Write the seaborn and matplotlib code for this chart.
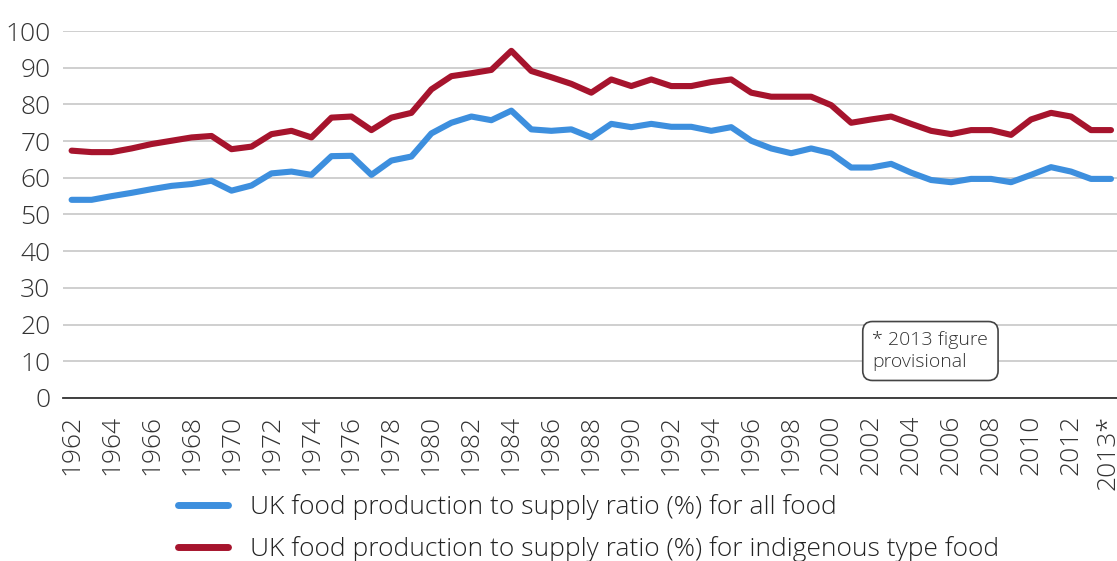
import pandas as pd
import matplotlib.pyplot as plt
import seaborn as sns

# years on the category axis; the last slot is the provisional 2013* figure
years = list(range(1962, 2015))

all_food = [54, 54, 55, 55.9, 56.9, 57.8, 58.3, 59.2, 56.5, 57.9,
            61.2, 61.7, 60.8, 65.9, 66, 60.8, 64.7, 65.8, 72.1, 75.0,
            76.7, 75.7, 78.3, 73.2, 72.8, 73.2, 71.0, 74.7, 73.8, 74.7,
            73.9, 73.9, 72.8, 73.8, 70.1, 68.0, 66.7, 68.0, 66.7, 62.8,
            62.8, 63.8, 61.4, 59.4, 58.8, 59.7, 59.7, 58.8, 60.8, 62.9,
            61.7, 59.7, 59.7]

indigenous = [67.4, 67, 67, 68.0, 69.2, 70.1, 71.0, 71.4, 67.8, 68.5,
              71.9, 72.8, 71.0, 76.4, 76.7, 73.0, 76.4, 77.7, 84.1, 87.7,
              88.5, 89.4, 94.6, 89.1, 87.4, 85.6, 83.2, 86.8, 85.0, 86.8,
              85.0, 85.0, 86.1, 86.8, 83.2, 82.1, 82.1, 82.1, 79.8, 75.0,
              75.9, 76.7, 74.7, 72.8, 71.9, 73.0, 73.0, 71.7, 75.9, 77.7,
              76.7, 73.0, 73.0]

label_all = "UK food production to supply ratio (%) for all food"
label_ind = "UK food production to supply ratio (%) for indigenous type food"

tick_years = list(range(1962, 2013, 2)) + [2013.85]
tick_labels = [str(y) for y in range(1962, 2013, 2)] + ["2013*"]

df = pd.DataFrame({
    "year": years * 2,
    "ratio": all_food + indigenous,
    "series": [label_all] * len(years) + [label_ind] * len(years),
})

sns.set_theme(style="white")
plt.rcParams['font.family'] = ['Open Sans', 'DejaVu Sans']

fig = plt.figure(figsize=(11.17, 5.61), dpi=100)
ax = fig.add_axes([0.0564, 0.2906, 1 - 0.0564, 0.6541])

sns.lineplot(data=df, x="year", y="ratio", hue="series",
             palette=["#3d8fde", "#a6142d"], linewidth=4.4,
             solid_capstyle="round", ax=ax)

ax.set_xlim(1961.57, 2014.3)
ax.set_ylim(0, 100)
ax.set_yticks(range(0, 101, 10))
ax.set_xticks(tick_years)
ax.set_xticklabels(tick_labels, rotation=90)
ax.tick_params(axis="y", length=0, pad=9, labelsize=19, labelcolor="#333333")
ax.tick_params(axis="x", length=0, pad=12, labelsize=19, labelcolor="#333333")
for lab in ax.get_xticklabels() + ax.get_yticklabels():
    lab.set_fontweight("light")

ax.grid(axis="y", color="#cccccc", linewidth=1.3)
ax.set_axisbelow(True)
for side in ["top", "right", "left"]:
    ax.spines[side].set_visible(False)
ax.spines["bottom"].set_color("#333333")
ax.spines["bottom"].set_linewidth(1.3)
ax.set_xlabel("")
ax.set_ylabel("")

ax.text(0.768, 0.128, "* 2013 figure\nprovisional", transform=ax.transAxes,
        ha="left", va="center", fontsize=14, color="#333333",
        fontweight="light", linespacing=1.25,
        bbox=dict(boxstyle="round,pad=0.5,rounding_size=0.5",
                  facecolor="white", edgecolor="#444444", linewidth=1.2))

leg = ax.legend(loc="upper left", bbox_to_anchor=(0.1495, 0.138),
                bbox_transform=fig.transFigure, frameon=False,
                fontsize=19, handlelength=1.9, handletextpad=0.85,
                labelspacing=0.6, borderaxespad=0)
for txt in leg.get_texts():
    txt.set_color("#222222")
    txt.set_fontweight("light")
for line in leg.get_lines():
    line.set_linewidth(5)
    line.set_solid_capstyle("round")

fig.savefig("out.png", dpi=100)
